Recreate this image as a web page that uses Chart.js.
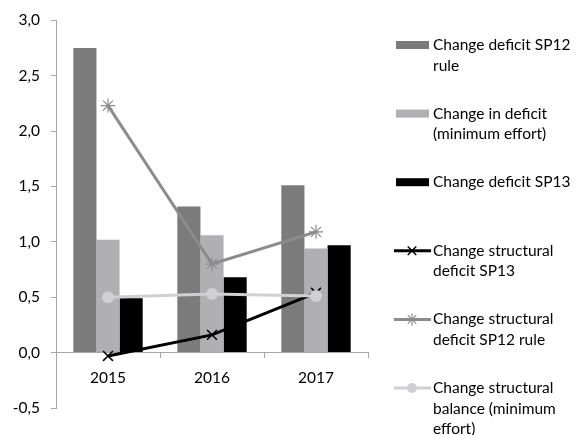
<html>
<head>
	<title>Change in deficit</title>
	<meta name="viewport" content="width=device-width, initial-scale=1">
	<script src="https://cdn.jsdelivr.net/npm/chart.js"></script>
	<style>
		html, body { margin: 0; padding: 0; background: #fff; }
		#wrap { width: 586px; height: 435px; }
	</style>
</head>
<body>
	<div id="wrap">
		<canvas id="deficitChart" width="586" height="435"></canvas>
	</div>
</body>
<script>
    const years = ['2015', '2016', '2017'];

    // bars
    const deficitSP12Rule = [2.75, 1.32, 1.51];
    const deficitMinEffort = [1.02, 1.06, 0.94];
    const deficitSP13 = [0.49, 0.68, 0.97];

    // lines
    const structSP13 = [-0.03, 0.16, 0.54];
    const structSP12Rule = [2.23, 0.80, 1.09];
    const structMinEffort = [0.50, 0.53, 0.51];

    const yTicks = [-0.5, 0.0, 0.5, 1.0, 1.5, 2.0, 2.5, 3.0];

    const legendLabels = [
        ['Change deficit SP12', 'rule'],
        ['Change in deficit', '(minimum effort)'],
        ['Change deficit SP13'],
        ['Change structural', 'deficit SP13'],
        ['Change structural', 'deficit SP12 rule'],
        ['Change structural', 'balance (minimum', 'effort)']
    ];

    const fontFamily = 'Lato, "Open Sans", sans-serif';
    const axisColor = '#a6a6a6';

    // legend drawn on the right side of the canvas, one block per dataset
    const sideLegend = {
        id: 'sideLegend',
        afterDraw: (chart) => {
            const ctx = chart.ctx;
            const x0 = 396;
            const textX = 433;
            const firstY = 45;
            const step = 68.6;
            const lineH = 20.5;

            ctx.save();
            ctx.font = `15.5px ${fontFamily}`;
            ctx.textBaseline = 'middle';

            chart.data.datasets.forEach((ds, i) => {
                const y = firstY + step * i;

                if (ds.type === 'bar') {
                    ctx.fillStyle = ds.backgroundColor;
                    ctx.fillRect(x0, y - 4, 33, 8);
                } else {
                    ctx.strokeStyle = ds.borderColor;
                    ctx.lineWidth = 3;
                    ctx.beginPath();
                    ctx.moveTo(x0 - 2, y);
                    ctx.lineTo(x0 + 35, y);
                    ctx.stroke();

                    ctx.fillStyle = ds.pointBackgroundColor;
                    ctx.strokeStyle = ds.pointBorderColor;
                    ctx.lineWidth = ds.pointBorderWidth || 1;
                    if (ds.pointStyle === 'circle') {
                        ctx.beginPath();
                        ctx.arc(x0 + 16, y, 5, 0, Math.PI * 2);
                        ctx.fill();
                    } else {
                        Chart.helpers.drawPoint(ctx, {
                            pointStyle: ds.pointStyle,
                            radius: 6,
                            borderWidth: ds.pointBorderWidth || 1
                        }, x0 + 16, y);
                    }
                }

                ctx.fillStyle = '#000';
                legendLabels[i].forEach((line, j) => {
                    ctx.fillText(line, textX, y + j * lineH);
                });
            });
            ctx.restore();
        }
    };

    const config = {
        data: {
            labels: years,
            datasets: [
                {
                    type: 'bar',
                    data: deficitSP12Rule,
                    backgroundColor: '#7b7b7b',
                    categoryPercentage: 0.667,
                    barPercentage: 1.0,
                    order: 3
                },
                {
                    type: 'bar',
                    data: deficitMinEffort,
                    backgroundColor: '#b0b0b3',
                    categoryPercentage: 0.667,
                    barPercentage: 1.0,
                    order: 3
                },
                {
                    type: 'bar',
                    data: deficitSP13,
                    backgroundColor: '#000000',
                    categoryPercentage: 0.667,
                    barPercentage: 1.0,
                    order: 3
                },
                {
                    type: 'line',
                    data: structSP13,
                    borderColor: '#000000',
                    borderWidth: 3,
                    pointStyle: 'crossRot',
                    pointRadius: 7,
                    pointBorderWidth: 1.5,
                    pointBorderColor: '#000000',
                    pointBackgroundColor: '#000000',
                    order: 2
                },
                {
                    type: 'line',
                    data: structSP12Rule,
                    borderColor: '#8c8c8c',
                    borderWidth: 3,
                    pointStyle: 'star',
                    pointRadius: 7,
                    pointBorderWidth: 1.2,
                    pointBorderColor: '#8c8c8c',
                    pointBackgroundColor: '#8c8c8c',
                    order: 1
                },
                {
                    type: 'line',
                    data: structMinEffort,
                    borderColor: '#d0d0d2',
                    borderWidth: 3,
                    pointStyle: 'circle',
                    pointRadius: 6,
                    pointBorderWidth: 0,
                    pointBorderColor: '#d0d0d2',
                    pointBackgroundColor: '#d0d0d2',
                    order: 0
                }
            ]
        },
        options: {
            responsive: false,
            animation: false,
            layout: {
                padding: { top: 13, right: 218, bottom: 27, left: 0 }
            },
            plugins: {
                legend: { display: false },
                tooltip: { enabled: false }
            },
            scales: {
                x: {
                    position: { y: 0 },
                    grid: {
                        drawOnChartArea: false,
                        offset: true,
                        tickLength: 5,
                        color: axisColor
                    },
                    border: { color: axisColor, width: 1 },
                    ticks: {
                        color: '#000',
                        padding: 11,
                        font: { family: fontFamily, size: 15.5 }
                    }
                },
                y: {
                    min: -0.5,
                    max: 3.0,
                    afterFit: (scale) => { scale.width = 56; },
                    afterBuildTicks: (scale) => {
                        scale.ticks = yTicks.map(v => ({ value: v }));
                    },
                    grid: {
                        drawOnChartArea: false,
                        tickLength: 5,
                        color: axisColor
                    },
                    border: { color: axisColor, width: 1 },
                    ticks: {
                        color: '#000',
                        padding: 11,
                        font: { family: fontFamily, size: 15.5 },
                        callback: (v) => v.toFixed(1).replace('.', ',')
                    }
                }
            }
        },
        plugins: [sideLegend]
    };

    new Chart(document.getElementById('deficitChart'), config);
</script>
</html>
